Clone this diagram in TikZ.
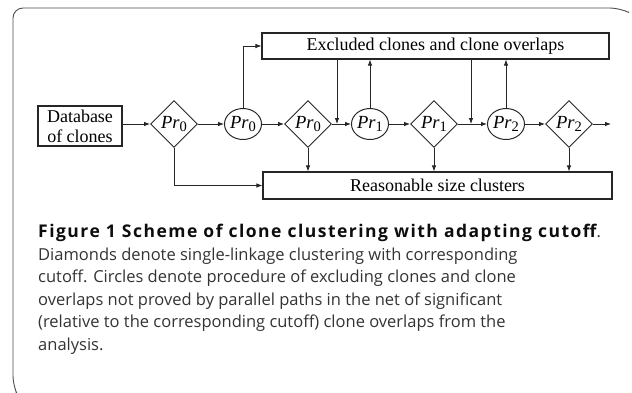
\documentclass[tikz,border=0pt]{standalone}
\usepackage{fontspec}
\setmainfont{Liberation Serif}
\newfontfamily\capfont{Open Sans}
\newfontfamily\capboldfont{Open Sans Bold}[LetterSpace=8.5]
\usetikzlibrary{shapes.geometric,arrows.meta}
\newcommand{\prlab}[1]{\textit{Pr}\raisebox{-0.45ex}{\fontsize{14.5}{14.5}\selectfont #1}}
\tikzset{flow box/.style={
    draw=black!85, line width=1.1pt, inner sep=0pt,
    font=\fontsize{18}{20}\selectfont, align=center,
  },
  cut shape/.style={
    draw=black!85, line width=0.9pt, inner sep=0pt,
    aspect=1, minimum width=47pt, minimum height=47pt,
    font=\fontsize{18.5}{18.5}\selectfont,
  },
  excl shape/.style={
    draw=black!85, line width=1pt, inner sep=0pt,
    minimum width=37pt, minimum height=31pt,
    font=\fontsize{18.5}{18.5}\selectfont,
  },
  flow arrow/.style={draw=black!85, line width=0.8pt,
    -{Latex[length=6pt,width=4.5pt]}},
}

\begin{document}
\begin{tikzpicture}[x=1pt, y=-1pt]
\useasboundingbox (0,0) rectangle (632,392);
% frame
\draw[black!70, line width=0.9pt, rounded corners=10pt]
  (16,392) -- (13,386) -- (13,8) -- (620,8) -- (628,12);

\node[name=db, flow box, minimum width=84pt, minimum height=40pt] at (80,126)
  {Database\\of clones};
\node[name=ex, flow box, minimum width=347pt, minimum height=26pt] at (435.5,46)
  {Excluded clones and clone overlaps};
\node[name=cl, flow box, minimum width=349pt, minimum height=27pt] at (437.5,185.5)
  {Reasonable size clusters};

\node[name=d1, shape=diamond, cut shape] at (174,124) {\prlab{0}};
\node[name=c0, shape=ellipse, excl shape] at (243,124) {\prlab{0}};
\node[name=d2, shape=diamond, cut shape] at (308,124) {\prlab{0}};
\node[name=c1, shape=ellipse, excl shape] at (370,124) {\prlab{1}};
\node[name=d3, shape=diamond, cut shape] at (434,124) {\prlab{1}};
\node[name=c2, shape=ellipse, excl shape] at (506,124) {\prlab{2}};
\node[name=d4, shape=diamond, cut shape] at (569,124) {\prlab{2}};
\coordinate (out) at (611,124);
\coordinate (j1) at (337,124);
\coordinate (j2) at (471,124);

% main chain
\draw[flow arrow] (d1.west -| db.east) -- (d1.west);
\foreach \from/\to in {d1/c0, c0/d2, d2/c1, c1/d3, d3/c2, c2/d4}
  \draw[flow arrow] (\from.east) -- (\to.west);
\draw[flow arrow] (d4.east) -- (out);

% excluded part
\draw[flow arrow] (c0.north) |- (ex.west);
\foreach \j in {j1, j2}
  \draw[flow arrow] (\j |- ex.south) -- (\j);
\foreach \c in {c1, c2}
  \draw[flow arrow] (\c.north) -- (\c.north |- ex.south);

% clusters
\draw[flow arrow] (d1.south) |- (cl.west);
\foreach \d in {d2, d3, d4}
  \draw[flow arrow] (\d.south) -- (\d.south |- cl.north);

% caption
\node[name=cap, anchor=north west, inner sep=0pt, align=left,
  font=\capfont\fontsize{16.5}{22.5}\selectfont, text=black!80] at (38,224)
  {{\capboldfont\fontsize{17.5}{22.5}\selectfont\color{black!95}Figure 1 Scheme of clone clustering with adapting cutoff}.\\
   Diamonds denote single-linkage clustering with corresponding\\
   cutoff. Circles denote procedure of excluding clones and clone\\
   overlaps not proved by parallel paths in the net of significant\\
   (relative to the corresponding cutoff) clone overlaps from the\\
   analysis.};
\end{tikzpicture}
\end{document}
